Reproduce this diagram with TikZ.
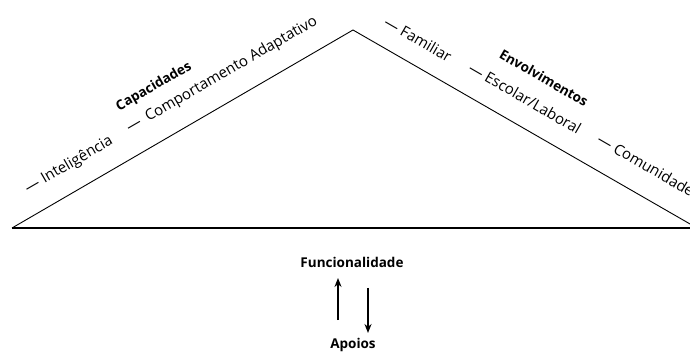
\documentclass[tikz,border=0pt]{standalone}
\usepackage{fontspec}
\setmainfont{Open Sans}
\usetikzlibrary{arrows.meta}
\begin{document}
\begin{tikzpicture}[x=1pt,y=-1pt,
  lbl/.style={font=\fontsize{15}{17}\selectfont, inner sep=0pt},
  head/.style={font=\fontsize{13.5}{16}\selectfont\bfseries, inner sep=0pt},
  arr/.style={line width=1.5pt,-{Stealth[length=9pt,width=7pt]}}]
\useasboundingbox (0,0) rectangle (690,352);
% triangle
\coordinate (L) at (12,228);
\coordinate (T) at (353,30);
\coordinate (R) at (697,228);
\draw[line width=0.9pt] (L) -- (T) -- (R);
\draw[line width=1.5pt] (L) -- (R);
% left labels
\node[lbl, rotate=30] (int) at (69,165) {— Inteligência};
\node[head, rotate=30] (cap) at (154,87) {Capacidades};
\node[lbl, rotate=30] (comp) at (222,75) {—\hspace{0.45em}Comportamento Adaptativo};
% right labels
\node[lbl, rotate=-30] (fam) at (418,39) {— Familiar};
\node[head, rotate=-30] (env) at (544,78) {Envolvimentos};
\node[lbl, rotate=-30] (esc) at (525,98) {— Escolar/Laboral};
\node[lbl, rotate=-30] (com) at (646,165) {— Comunidade};
% bottom
\node[head] (f) at (352,262) {Funcionalidade};
\node[head] (a) at (353,345) {Apoios};
\coordinate (u1) at (338,320);
\coordinate (u2) at (338,278);
\coordinate (d1) at (368,288);
\coordinate (d2) at (368,333);
\draw[arr] (u1) -- (u2);
\draw[arr] (d1) -- (d2);
\end{tikzpicture}
\end{document}
